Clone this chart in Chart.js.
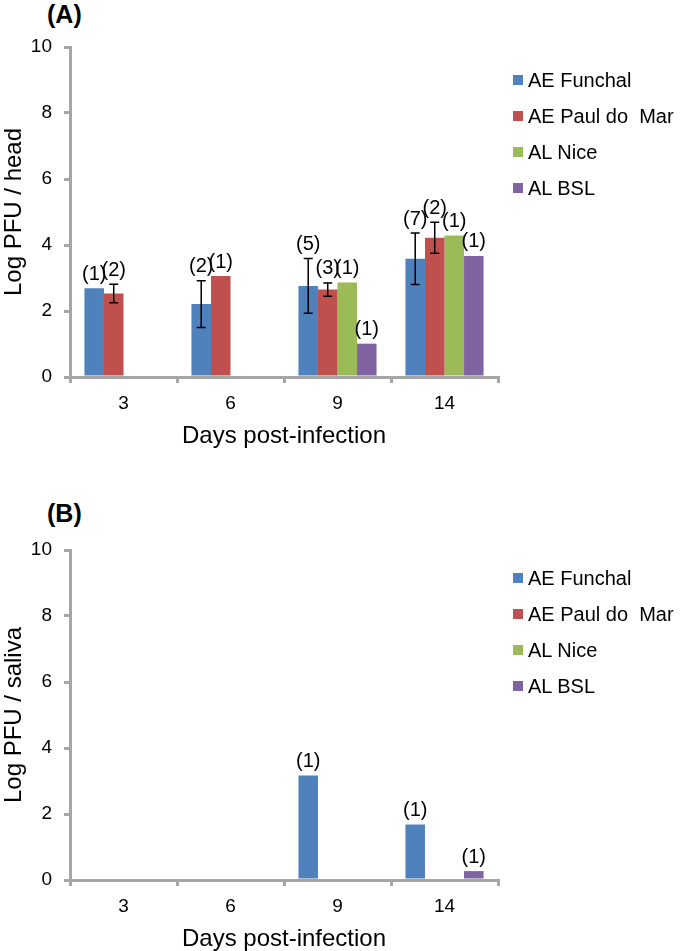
<!DOCTYPE html>
<html>
<head>
<meta charset="utf-8">
<script src="https://cdn.jsdelivr.net/npm/chart.js@4/dist/chart.umd.min.js"></script>
<style>
  html, body { margin: 0; padding: 0; background: #fff; overflow: hidden; }
  body { width: 681px; height: 951px; position: relative; font-family: "Liberation Sans", Arial, sans-serif; }
  .panel { position: absolute; left: 0; width: 681px; height: 475px; }
  .tag { position: absolute; left: 47px; font-weight: bold; font-size: 25px; line-height: 28px; }
  .legend { position: absolute; left: 513px; font-size: 20px; color: #000; }
  .legend .item { height: 36px; display: flex; align-items: center; white-space: pre; }
  .legend .box { width: 10px; height: 10px; margin-right: 5px; flex: none; }
</style>
</head>
<body>
<div class="tag" style="top:0px">(A)</div>
<div class="panel" style="top:0px"><canvas id="chart-head" width="681" height="475"></canvas></div>
<div class="legend" id="legend-head" style="top:62px"></div>

<div class="tag" style="top:499px">(B)</div>
<div class="panel" style="top:503px"><canvas id="chart-saliva" width="681" height="475"></canvas></div>
<div class="legend" id="legend-saliva" style="top:560px"></div>

<script>
/* ================================
   DATA
   ================================ */
const days = ["3", "6", "9", "14"];
const strains = ["AE Funchal", "AE Paul do  Mar", "AL Nice", "AL BSL"];
const strainColors = ["#4f81bd", "#c0504d", "#9bbb59", "#8064a2"];
const yTicks = [0, 2, 4, 6, 8, 10];

// (A) virus titre in heads
const headFunchal = [2.69, 2.21, 2.76, 3.58];
const headPaul = [2.53, 3.06, 2.65, 4.22];
const headNice = [null, null, 2.86, 4.29];
const headBSL = [null, null, 1.01, 3.67];

const headFunchalErr = [null, 0.71, 0.83, 0.78];
const headPaulErr = [0.28, null, 0.2, 0.47];
const headNiceErr = [null, null, null, null];
const headBSLErr = [null, null, null, null];

const headFunchalN = [1, 2, 5, 7];
const headPaulN = [2, 1, 3, 2];
const headNiceN = [null, null, 1, 1];
const headBSLN = [null, null, 1, 1];

// (B) virus titre in saliva
const salivaFunchal = [0, 0, 3.17, 1.68];
const salivaPaul = [0, 0, 0, 0];
const salivaNice = [0, 0, 0, 0];
const salivaBSL = [0, 0, 0, 0.27];

const salivaFunchalN = [null, null, 1, 1];
const salivaPaulN = [null, null, null, null];
const salivaNiceN = [null, null, null, null];
const salivaBSLN = [null, null, null, 1];

/* ================================
   PLUGINS
   ================================ */
const axisGray = "#a6a6a6";
Chart.defaults.font.family = '"Liberation Sans", Arial, sans-serif';
Chart.defaults.color = "#000";

// error bars + "(n)" labels above each bar
const barExtras = {
  id: "barExtras",
  afterDatasetsDraw(chart) {
    const ctx = chart.ctx;
    const yScale = chart.scales.y;
    ctx.save();
    chart.data.datasets.forEach((ds, i) => {
      const meta = chart.getDatasetMeta(i);
      meta.data.forEach((bar, j) => {
        const v = ds.data[j];
        const err = ds.errors ? ds.errors[j] : null;
        let top = v == null ? yScale.getPixelForValue(0) : yScale.getPixelForValue(v);
        if (v != null && err) {
          const yHi = yScale.getPixelForValue(v + err);
          const yLo = yScale.getPixelForValue(v - err);
          ctx.strokeStyle = "#000";
          ctx.lineWidth = 1.5;
          ctx.beginPath();
          ctx.moveTo(bar.x, yHi); ctx.lineTo(bar.x, yLo);
          ctx.moveTo(bar.x - 4.5, yHi); ctx.lineTo(bar.x + 4.5, yHi);
          ctx.moveTo(bar.x - 4.5, yLo); ctx.lineTo(bar.x + 4.5, yLo);
          ctx.stroke();
          top = Math.min(top, yHi);
        }
        const n = ds.counts ? ds.counts[j] : null;
        if (n != null) {
          ctx.fillStyle = "#000";
          ctx.font = '20px "Liberation Sans", Arial, sans-serif';
          ctx.textAlign = "center";
          ctx.textBaseline = "bottom";
          ctx.fillText("(" + n + ")", bar.x, top - 4);
        }
      });
    });
    ctx.restore();
  }
};

/* ================================
   CHART BUILDER
   ================================ */
function renderPanel(canvasId, legendId, yTitle, series, errors, counts) {
  const ctx = document.getElementById(canvasId).getContext("2d");

  const datasets = strains.map((name, i) => ({
    label: name,
    data: series[i],
    errors: errors[i],
    counts: counts[i],
    backgroundColor: strainColors[i],
    borderWidth: 0,
    barPercentage: 1,
    categoryPercentage: 0.73
  }));

  new Chart(ctx, {
    type: "bar",
    data: { labels: days, datasets: datasets },
    options: {
      responsive: false,
      animation: false,
      layout: { padding: { top: 47, right: 183, bottom: 0, left: 0 } },
      plugins: { legend: { display: false }, tooltip: { enabled: false } },
      scales: {
        x: {
          ticks: { color: "#000", font: { size: 19 }, padding: 9 },
          grid: { drawOnChartArea: false, tickLength: 6, color: axisGray, lineWidth: 3, offset: true },
          border: { color: axisGray, width: 3 },
          title: { display: true, text: "Days post-infection", color: "#000", font: { size: 24 }, padding: { top: 0, bottom: 24 } },
          afterFit: s => { s.height = 98; }
        },
        y: {
          min: yTicks[0],
          max: yTicks[yTicks.length - 1],
          afterBuildTicks: s => { s.ticks = yTicks.map(v => ({ value: v })); },
          ticks: { color: "#000", font: { size: 19 }, padding: 12 },
          grid: { drawOnChartArea: false, tickLength: 6, color: axisGray, lineWidth: 3 },
          border: { color: axisGray, width: 3 },
          title: { display: true, text: yTitle, color: "#000", font: { size: 24 }, padding: { top: 0, bottom: 0 } },
          afterFit: s => { s.width = 70; }
        }
      }
    },
    plugins: [barExtras]
  });

  // legend on the right
  const legendEl = document.getElementById(legendId);
  strains.forEach((name, i) => {
    const item = document.createElement("div");
    item.className = "item";
    const box = document.createElement("span");
    box.className = "box";
    box.style.background = strainColors[i];
    const txt = document.createElement("span");
    txt.textContent = name;
    item.appendChild(box);
    item.appendChild(txt);
    legendEl.appendChild(item);
  });
}

renderPanel("chart-head", "legend-head", "Log PFU / head",
  [headFunchal, headPaul, headNice, headBSL],
  [headFunchalErr, headPaulErr, headNiceErr, headBSLErr],
  [headFunchalN, headPaulN, headNiceN, headBSLN]);

renderPanel("chart-saliva", "legend-saliva", "Log PFU / saliva",
  [salivaFunchal, salivaPaul, salivaNice, salivaBSL],
  [null, null, null, null],
  [salivaFunchalN, salivaPaulN, salivaNiceN, salivaBSLN]);
</script>
</body>
</html>
